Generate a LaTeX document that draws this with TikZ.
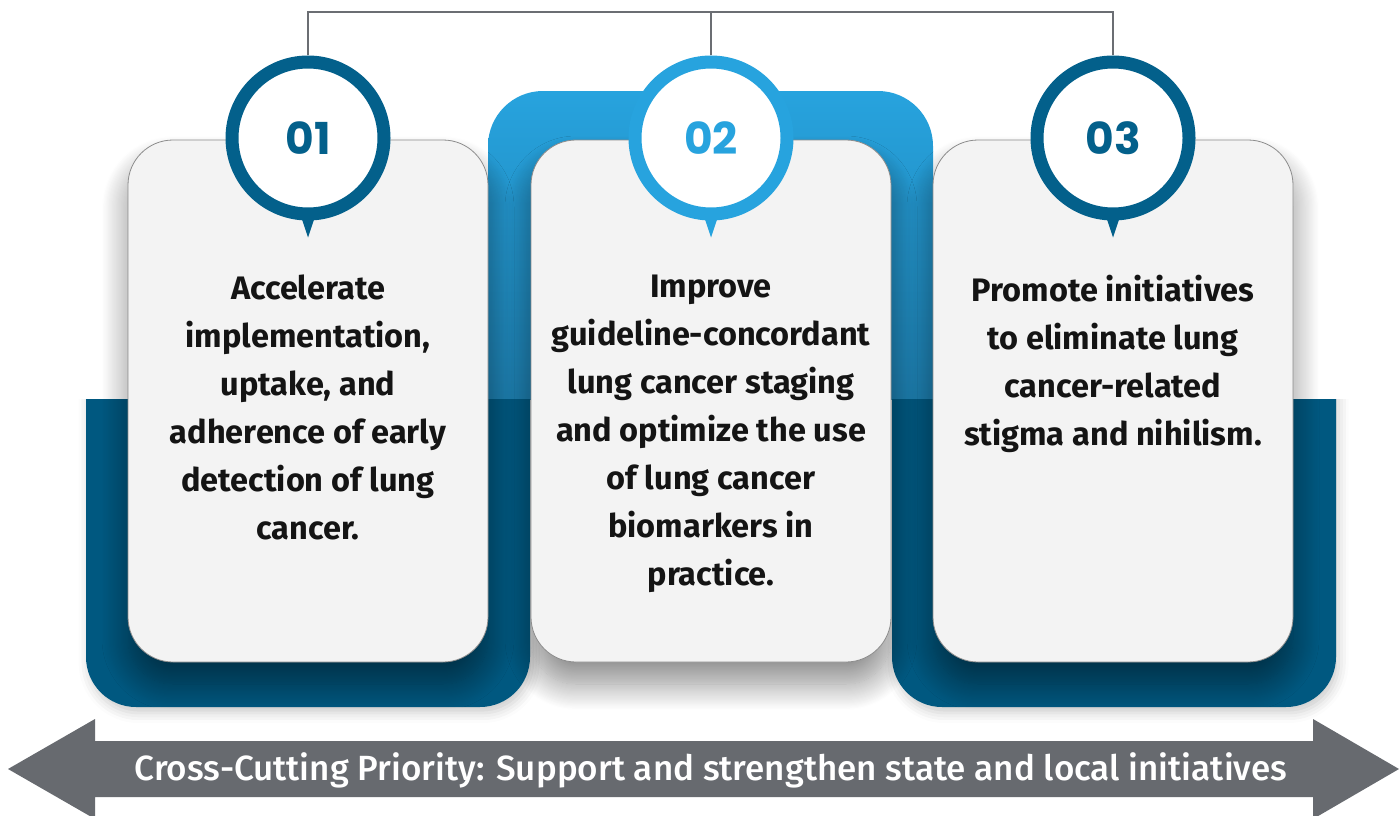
\documentclass[tikz,border=0pt]{standalone}
\usepackage{fontspec}
\setmainfont{Fira Sans}
\newfontfamily\numfont{Poppins}
\newfontfamily\medfont{Fira Sans Medium}
\usetikzlibrary{positioning,shadows.blur}

\definecolor{ringdark}{HTML}{03608B}
\definecolor{ringlight}{HTML}{27A3DE}
\definecolor{framedark}{HTML}{005880}
\definecolor{framemid}{HTML}{1B76A4}
\definecolor{cardgrey}{HTML}{F3F3F3}
\definecolor{linegrey}{HTML}{6B6E73}
\definecolor{arrowgrey}{HTML}{676A6F}

\tikzset{
    card/.style={draw=black!45, line width=0.8pt, fill=cardgrey, rounded corners=45pt,
        minimum width=360pt, minimum height=522pt,
        blur shadow={shadow xshift=0pt, shadow yshift=-22pt, shadow blur radius=26pt,
            shadow blur steps=24, shadow opacity=45}},
    badge/.style={circle, draw=#1, line width=13pt, fill=white, minimum size=152pt, inner sep=0pt,
        text=#1, font=\numfont\bfseries\fontsize{44}{44}\selectfont},
    cardtext/.style={anchor=north, align=center, inner sep=0pt, text=black!92,
        font=\bfseries\fontsize{32.5}{48}\selectfont},
    connector/.style={draw=linegrey, line width=2pt},
}

\begin{document}
\begin{tikzpicture}[x=1pt, y=-1pt]
    \useasboundingbox (0,0) rectangle (1400,816);

    % frames behind the cards
    \begin{scope}
        \clip (0,0) rectangle (1400,399);
        \shade [top color=ringlight, bottom color=framemid, rounded corners=55pt] (488,91) rectangle (933,460);
    \end{scope}
    \begin{scope}
        \clip (0,399) rectangle (1400,816);
        \fill [framedark, rounded corners=50pt, blur shadow={shadow yshift=-6pt, shadow blur radius=10pt, shadow opacity=20}] (86,340) rectangle (530,707);
        \fill [framedark, rounded corners=50pt, blur shadow={shadow yshift=-6pt, shadow blur radius=10pt, shadow opacity=20}] (892,340) rectangle (1336,707);
    \end{scope}

    \begin{scope}[every node/.style={card}]
        \node (card1) at (308,401) {};
        \node (card2) at (711,401) {};
        \node (card3) at (1113,401) {};
    \end{scope}

    % numbered badges
    \node [badge=ringdark] (b1) at (308,138) {01};
    \node [badge=ringlight] (b2) at (711,138) {02};
    \node [badge=ringdark] (b3) at (1113,138) {03};
    \fill [ringdark] ([xshift=-7pt, yshift=4pt]b1.south) -- ([xshift=7pt, yshift=4pt]b1.south) -- ([yshift=-17pt]b1.south) -- cycle;
    \fill [ringlight] ([xshift=-7pt, yshift=4pt]b2.south) -- ([xshift=7pt, yshift=4pt]b2.south) -- ([yshift=-17pt]b2.south) -- cycle;
    \fill [ringdark] ([xshift=-7pt, yshift=4pt]b3.south) -- ([xshift=7pt, yshift=4pt]b3.south) -- ([yshift=-17pt]b3.south) -- cycle;

    \coordinate (bus) at (711,12);
    \draw [connector] (b1.north) |- (bus) -| (b3.north);
    \draw [connector] (b2.north) -- (bus);

    \node [cardtext] (t1) at (308,275) {Accelerate\\implementation,\\uptake, and\\adherence of early\\detection of lung\\cancer.};
    \node [cardtext] (t2) at (711,275) {Improve\\guideline-concordant\\lung cancer staging\\and optimize the use\\of lung cancer\\biomarkers in\\practice.};
    \node [cardtext] (t3) at (1113,275) {Promote initiatives\\to eliminate lung\\cancer-related\\stigma and nihilism.};

    % cross-cutting arrow
    \fill [arrowgrey] (8,769) -- (95,719) -- (95,741) -- (1313,741) -- (1313,719) -- (1399,769)
        -- (1313,819) -- (1313,797) -- (95,797) -- (95,819) -- cycle;
    \node [anchor=base, text=white, font=\medfont\fontsize{35}{35}\selectfont] (prio) at (711,780) {Cross-Cutting Priority: Support and strengthen state and local initiatives};
\end{tikzpicture}
\end{document}
